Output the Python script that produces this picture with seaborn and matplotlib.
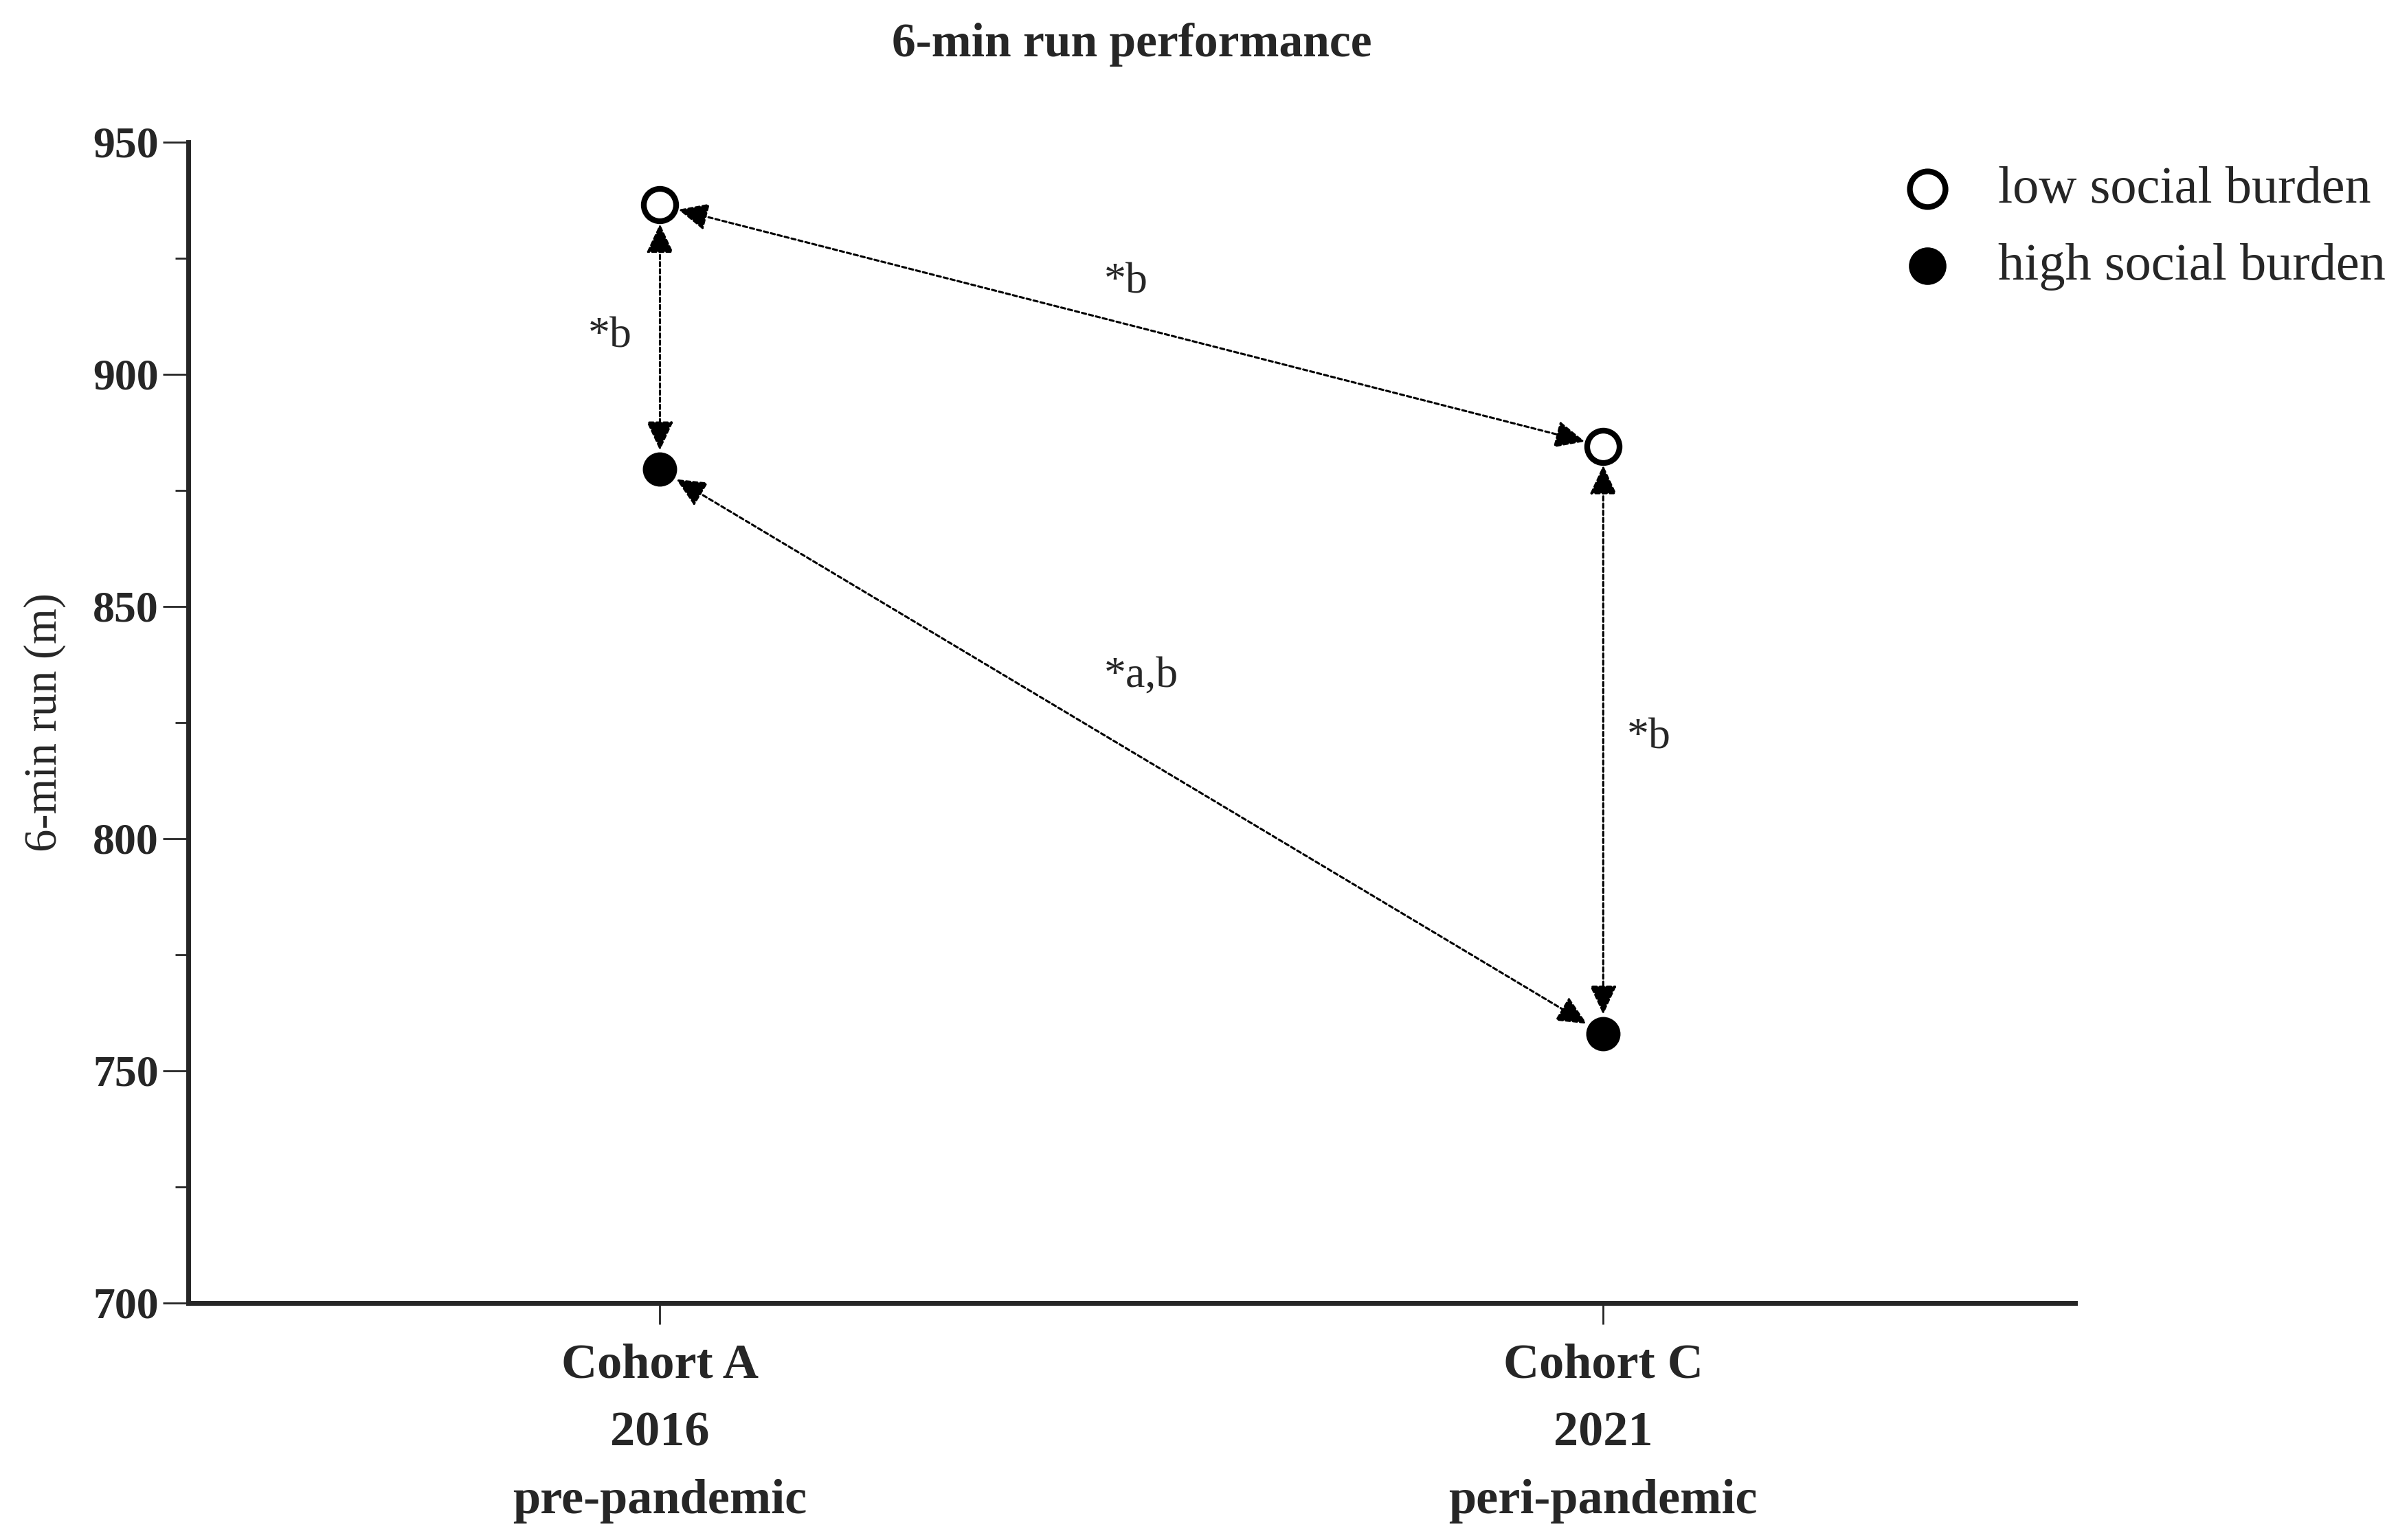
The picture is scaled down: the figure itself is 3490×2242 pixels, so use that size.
import matplotlib
matplotlib.use('Agg')
import matplotlib.pyplot as plt
import numpy as np
import pandas as pd
import seaborn as sns

cohorts = ['Cohort A\n2016\npre-pandemic', 'Cohort C\n2021\nperi-pandemic']
low_burden = [936.5, 884.5]
high_burden = [879.5, 758.0]
groups = ['low social burden', 'high social burden']
# (group_from, index_from, group_to, index_to, label)
comparisons = [
    ('low', 0, 'high', 0, '*b'),
    ('low', 0, 'low', 1, '*b'),
    ('high', 0, 'high', 1, '*a,b'),
    ('low', 1, 'high', 1, '*b'),
]
label_offsets = [(-52, 0), (-6, 45), (10, 79), (48, 2)]

sns.set_style('white')
plt.rcParams['font.family'] = ['Liberation Serif', 'DejaVu Serif']

df = pd.DataFrame({
    'x': list(range(len(cohorts))) * 2,
    'run': low_burden + high_burden,
    'group': [groups[0]] * len(cohorts) + [groups[1]] * len(cohorts),
})

fig = plt.figure(figsize=(34.91, 22.42), dpi=100)
ax = fig.add_axes([0.0785, 0.154, 0.7865, 0.7537])

sns.scatterplot(data=df[df.group == groups[0]], x='x', y='run', ax=ax, s=1150,
                facecolor='white', edgecolor='black', linewidth=6, label=groups[0], zorder=5)
sns.scatterplot(data=df[df.group == groups[1]], x='x', y='run', ax=ax, s=1150,
                color='black', edgecolor='black', linewidth=2, label=groups[1], zorder=5)

vals = {'low': low_burden, 'high': high_burden}
for (g1, i1, g2, i2, lab), off in zip(comparisons, label_offsets):
    p1 = (i1, vals[g1][i1])
    p2 = (i2, vals[g2][i2])
    ax.annotate('', xy=p2, xytext=p1,
                arrowprops=dict(arrowstyle='<|-|>,head_length=1.4,head_width=0.65',
                                mutation_scale=19, color='black', lw=2.2,
                                linestyle=(0, (2, 1.4)), shrinkA=20, shrinkB=20))
    mid = ((p1[0] + p2[0]) / 2, (p1[1] + p2[1]) / 2)
    ax.annotate(lab, xy=mid, xytext=off, textcoords='offset points',
                ha='center', va='center', fontsize=46)

ax.set_xlim(-0.5, 1.5)
ax.set_ylim(700, 950)
ax.set_xticks(range(len(cohorts)))
ax.set_xticklabels(cohorts, fontsize=52, fontweight='bold', linespacing=1.68)
ax.set_yticks(np.arange(700, 951, 50))
ax.set_yticks(np.arange(725, 950, 50), minor=True)
for t in ax.get_yticklabels():
    t.set_fontsize(46)
    t.set_fontweight('bold')
ax.tick_params(axis='y', which='major', length=27, width=2, pad=4, left=True)
ax.tick_params(axis='y', which='minor', length=14, width=2, left=True)
ax.tick_params(axis='x', which='major', length=22, width=2, pad=20, bottom=True)

ax.set_xlabel('')
ax.set_ylabel('6-min run (m)', fontsize=48, labelpad=28)
ax.set_title('6-min run performance', fontsize=50, fontweight='bold', pad=90)

sns.despine(ax=ax)
for side in ['left', 'bottom']:
    ax.spines[side].set_linewidth(5)

ax.legend(loc='upper left', bbox_to_anchor=(0.869, 1.02), frameon=False,
          fontsize=55, handletextpad=0.35, labelspacing=0.55, markerscale=1.1)

fig.savefig('out.png', dpi=100)
